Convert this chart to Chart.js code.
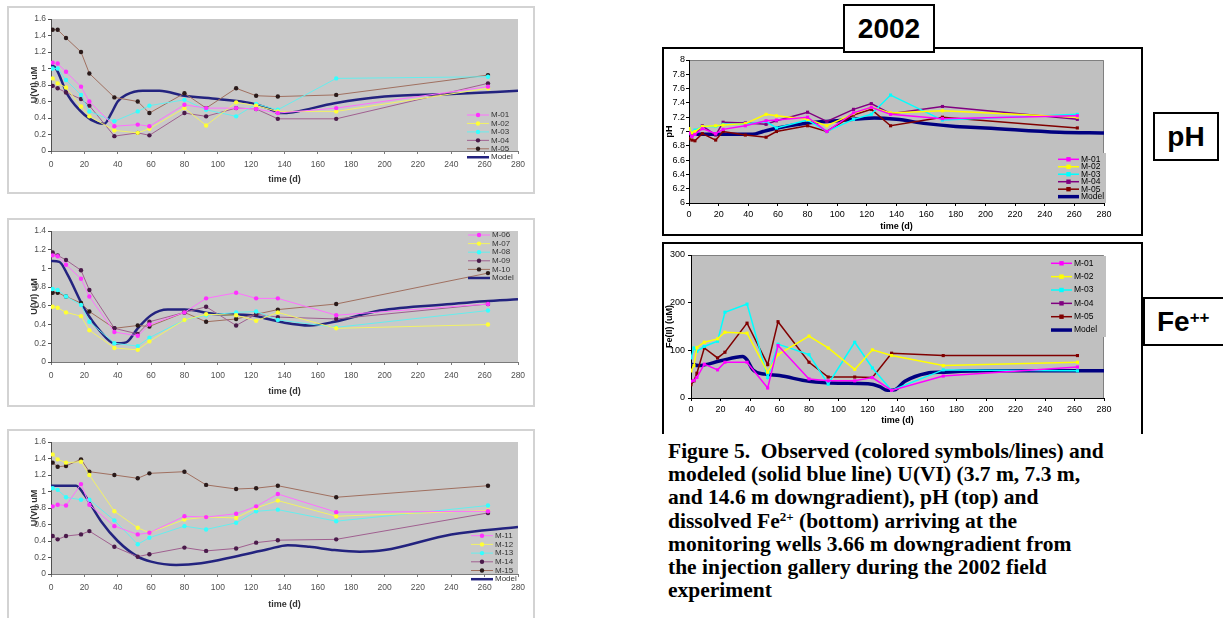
<!DOCTYPE html>
<html lang="en">
<head>
<meta charset="UTF-8" />
<title>Figure 5 - U(VI), pH and Fe(II), 2002</title>
<style>
  body { margin: 0; background: #fff; }
  #page { position: relative; width: 1223px; height: 618px; overflow: hidden; font-family: "Liberation Sans", Arial, sans-serif; }
  .frame { position: absolute; box-sizing: border-box; }
  .scan { border: 2px solid #d3d3d3; }
  .blk { border: 2px solid #000; }
  canvas { position: absolute; }
  .tag { position: absolute; box-sizing: border-box; border: 2px solid #000; background: #fff; font-weight: bold; font-size: 28px; display: flex; align-items: center; justify-content: center; }
  .tag sup { font-size: 17px; position: relative; top: -4px; vertical-align: top; }
  #caption { position: absolute; left: 668px; top: 440px; font-family: "Liberation Serif", "Times New Roman", serif; font-weight: bold; font-size: 21.5px; line-height: 23.2px; white-space: nowrap; color: #000; }
  #caption sup { font-size: 13px; line-height: 0; vertical-align: 7px; }
</style>
</head>
<body>
<div id="page">
  <div class="frame scan" style="left:7px;top:6px;width:528px;height:188px"></div>
  <div class="frame scan" style="left:7px;top:218px;width:528px;height:189px"></div>
  <div class="frame scan" style="left:7px;top:429px;width:528px;height:200px"></div>
  <div class="frame blk" style="left:662px;top:47px;width:481px;height:189px"></div>
  <div class="frame blk" style="left:662px;top:242px;width:481px;height:192px;border-bottom:none"></div>

  <canvas id="c1"></canvas>
  <canvas id="c2"></canvas>
  <canvas id="c3"></canvas>
  <canvas id="cph"></canvas>
  <canvas id="cfe"></canvas>

  <div class="tag" style="left:843px;top:4px;width:92px;height:49px">2002</div>
  <div class="tag" style="left:1153px;top:112px;width:66px;height:49px">pH</div>
  <div class="tag" style="left:1143px;top:297px;width:100px;height:49px;justify-content:flex-start;padding-left:12px">Fe<sup>++</sup></div>

  <div id="caption">
    Figure 5.&nbsp; Observed (colored symbols/lines) and<br>
    modeled (solid blue line) U(VI) (3.7 m, 7.3 m,<br>
    and 14.6 m downgradient), pH (top) and<br>
    dissolved Fe<sup>2+</sup> (bottom) arriving at the<br>
    monitoring wells 3.66 m downgradient from<br>
    the injection gallery during the 2002 field<br>
    experiment
  </div>
</div>

<script src="https://cdn.jsdelivr.net/npm/chart.js"></script>
<script>
// sampling days of the wells
const uDays = [1, 4, 9, 18, 23, 38, 52, 59, 80, 93, 111, 123, 136, 171, 262];
const chemDays = [0, 2, 4, 9, 18, 23, 38, 52, 59, 80, 93, 111, 123, 136, 171, 262];

// U(VI) uM, wells 3.7 m
const m01 = [1.07, 1.06, 0.96, 0.78, 0.60, 0.30, 0.32, 0.30, 0.56, 0.52, 0.52, 0.51, 0.46, 0.52, 0.78];
const m02 = [0.88, 0.82, 0.77, 0.54, 0.42, 0.25, 0.22, 0.27, 0.52, 0.31, 0.59, 0.55, 0.48, 0.48, 0.76];
const m03 = [1.00, 1.00, 0.86, 0.68, 0.48, 0.36, 0.48, 0.55, 0.62, 0.50, 0.42, 0.57, 0.50, 0.88, 0.90];
const m04 = [0.79, 0.76, 0.71, 0.63, 0.55, 0.18, 0.22, 0.19, 0.46, 0.42, 0.52, 0.51, 0.39, 0.39, 0.82];
const m05 = [1.47, 1.47, 1.37, 1.20, 0.94, 0.65, 0.60, 0.46, 0.70, 0.52, 0.76, 0.67, 0.66, 0.68, 0.92];
const model1Days = [0, 3, 10, 20, 28, 32, 36, 40, 45, 55, 65, 80, 100, 120, 130, 137, 145, 170, 200, 240, 280];
const model1 = [1.05, 1.00, 0.68, 0.44, 0.34, 0.33, 0.45, 0.60, 0.68, 0.73, 0.73, 0.67, 0.63, 0.58, 0.52, 0.46, 0.47, 0.58, 0.66, 0.69, 0.73];

// U(VI) uM, wells 7.3 m
const m06 = [1.14, 1.13, 1.04, 0.89, 0.70, 0.32, 0.28, 0.40, 0.53, 0.68, 0.74, 0.68, 0.68, 0.50, 0.62];
const m07 = [0.59, 0.58, 0.53, 0.49, 0.34, 0.15, 0.13, 0.22, 0.45, 0.51, 0.50, 0.44, 0.53, 0.36, 0.40];
const m08 = [0.78, 0.77, 0.70, 0.61, 0.43, 0.20, 0.17, 0.26, 0.45, 0.50, 0.53, 0.54, 0.45, 0.37, 0.55];
const m09 = [1.17, 1.14, 1.09, 0.98, 0.77, 0.36, 0.30, 0.43, 0.53, 0.59, 0.39, 0.51, 0.48, 0.46, 0.62];
const m10 = [0.74, 0.74, 0.70, 0.63, 0.54, 0.36, 0.39, 0.38, 0.53, 0.43, 0.46, 0.51, 0.56, 0.62, 0.95];
const model2Days = [0, 5, 10, 20, 30, 38, 45, 52, 60, 70, 80, 100, 120, 130, 140, 155, 170, 197, 240, 260, 280];
const model2 = [1.08, 1.07, 0.93, 0.57, 0.32, 0.20, 0.21, 0.36, 0.50, 0.56, 0.56, 0.51, 0.50, 0.46, 0.42, 0.39, 0.43, 0.55, 0.62, 0.65, 0.67];

// U(VI) uM, wells 14.6 m
const m11 = [0.82, 0.84, 0.83, 1.09, 0.84, 0.58, 0.48, 0.50, 0.70, 0.69, 0.73, 0.82, 0.97, 0.75, 0.76];
const m12 = [1.45, 1.39, 1.35, 1.36, 1.20, 0.76, 0.56, 0.50, 0.66, 0.69, 0.68, 0.80, 0.89, 0.70, 0.77];
const m13 = [1.04, 1.02, 0.93, 0.90, 0.90, 0.65, 0.36, 0.44, 0.58, 0.54, 0.62, 0.76, 0.78, 0.64, 0.83];
const m14 = [0.46, 0.42, 0.46, 0.48, 0.52, 0.33, 0.21, 0.24, 0.32, 0.28, 0.31, 0.38, 0.41, 0.42, 0.74];
const m15 = [1.35, 1.30, 1.31, 1.39, 1.24, 1.20, 1.16, 1.22, 1.24, 1.08, 1.03, 1.04, 1.07, 0.93, 1.07];
const model3Days = [0, 15, 20, 30, 40, 52, 60, 75, 90, 110, 130, 142, 155, 170, 185, 200, 240, 280];
const model3 = [1.07, 1.07, 0.96, 0.64, 0.40, 0.21, 0.15, 0.11, 0.13, 0.21, 0.30, 0.35, 0.33, 0.29, 0.27, 0.29, 0.48, 0.57];

// pH, wells M-01..M-05
const ph01 = [6.98, 6.93, 6.96, 7.04, 6.97, 7.03, 7.08, 7.15, 7.16, 7.20, 7.00, 7.26, 7.34, 7.24, 7.18, 7.22];
const ph02 = [7.04, 6.98, 7.00, 7.07, 7.08, 7.09, 7.11, 7.24, 7.22, 7.17, 7.08, 7.25, 7.34, 7.26, 7.29, 7.20];
const ph03 = [7.03, 6.99, 7.02, 7.07, 7.07, 7.10, 7.10, 7.14, 7.05, 7.16, 7.00, 7.17, 7.24, 7.51, 7.16, 7.24];
const ph04 = [6.97, 6.95, 6.96, 7.08, 6.95, 7.13, 7.12, 7.10, 7.15, 7.27, 7.14, 7.31, 7.39, 7.25, 7.35, 7.17];
const ph05 = [6.90, 6.88, 6.87, 6.97, 6.88, 7.00, 6.95, 6.92, 7.00, 7.08, 7.00, 7.23, 7.31, 7.08, 7.20, 7.05];
const phModelDays = [0, 20, 43, 50, 60, 80, 100, 125, 140, 160, 180, 190, 200, 250, 280];
const phModel = [6.96, 6.96, 6.96, 7.00, 7.05, 7.12, 7.15, 7.19, 7.17, 7.11, 7.07, 7.06, 7.05, 6.99, 6.98];

// Fe(II) uM, wells M-01..M-05 (no M-04 values plotted)
const fe01 = [35, 37, 43, 71, 59, 75, 75, 21, 110, 40, 36, 36, 43, 16, 46, 65];
const fe02 = [57, 68, 106, 117, 124, 138, 136, 54, 91, 130, 105, 60, 101, 89, 68, 75];
const fe03 = [84, 105, 98, 108, 119, 180, 197, 43, 113, 91, 29, 117, 63, 16, 59, 57];
const fe04 = [];
const fe05 = [28, 36, 52, 105, 84, 96, 157, 70, 160, 75, 44, 44, 43, 94, 89, 89];
const feModelDays = [0, 5, 20, 35, 38, 42, 50, 60, 80, 100, 120, 128, 133, 138, 145, 160, 170, 200, 280];
const feModel = [71, 68, 78, 87, 80, 59, 50, 47, 35, 31, 30, 24, 16, 17, 35, 52, 54, 57, 57];

const xy = (xs, ys) => ys.map((y, i) => ({ x: xs[i], y }));

// scanned (left) panels and Excel (right) panels
const scanColors = [
  { line: '#ff70ff', point: '#ff30ff' },
  { line: '#f2f266', point: '#ffff33' },
  { line: '#66eeee', point: '#33ffff' },
  { line: '#a06090', point: '#4a1a4a' },
  { line: '#a07060', point: '#2a1a1a' }
];
const xlColors = ['#ff00ff', '#ffff00', '#00ffff', '#800080', '#800000'];

function scanSets(labels, series, mDays, mVals) {
  const sets = series.map((s, i) => ({
    label: labels[i], data: xy(uDays, s),
    borderColor: scanColors[i].line, backgroundColor: scanColors[i].point,
    pointBackgroundColor: scanColors[i].point, pointBorderWidth: 0,
    borderWidth: 1, pointRadius: 2.2, pointStyle: 'circle', tension: 0
  }));
  sets.push({ label: 'Model', data: xy(mDays, mVals), borderColor: '#23237f', borderWidth: 2.5,
    pointRadius: 0, cubicInterpolationMode: 'monotone' });
  return sets;
}

function xlSets(series, mDays, mVals) {
  const sets = series.map((s, i) => ({
    label: 'M-0' + (i + 1), data: xy(chemDays, s),
    borderColor: xlColors[i], backgroundColor: xlColors[i], pointBackgroundColor: xlColors[i],
    pointBorderWidth: 0, borderWidth: 1.5, pointRadius: 2.2, pointStyle: 'rect', tension: 0
  }));
  sets.push({ label: 'Model', data: xy(mDays, mVals), borderColor: '#000080', borderWidth: 3.5,
    pointRadius: 0, cubicInterpolationMode: 'monotone' });
  return sets;
}

const plotBg = {
  id: 'plotBg',
  beforeDraw(chart, args, o) {
    const a = chart.chartArea, ctx = chart.ctx;
    ctx.save();
    ctx.fillStyle = o.color;
    ctx.fillRect(a.left, a.top, a.right - a.left, a.bottom - a.top);
    if (o.edge) {
      ctx.strokeStyle = o.edge; ctx.lineWidth = 1;
      ctx.beginPath();
      ctx.moveTo(a.left, a.top + 0.5);
      ctx.lineTo(a.right - 0.5, a.top + 0.5);
      ctx.lineTo(a.right - 0.5, a.bottom);
      ctx.stroke();
    }
    ctx.restore();
  }
};

const boxLegend = {
  id: 'boxLegend',
  afterDatasetsDraw(chart, args, o) {
    const ctx = chart.ctx;
    ctx.save();
    if (o.bg) { ctx.fillStyle = o.bg.color; ctx.fillRect(o.bg.x, o.bg.y, o.bg.w, o.bg.h); }
    ctx.font = o.font;
    ctx.textBaseline = 'middle';
    chart.data.datasets.forEach((ds, i) => {
      const y = o.y + i * o.dy;
      ctx.strokeStyle = ds.borderColor;
      ctx.lineWidth = ds.borderWidth;
      ctx.beginPath(); ctx.moveTo(o.x, y); ctx.lineTo(o.x + o.len, y); ctx.stroke();
      if (ds.pointRadius) {
        const cx = o.x + o.len / 2, r = ds.pointRadius;
        ctx.fillStyle = ds.pointBackgroundColor;
        if (ds.pointStyle === 'rect') ctx.fillRect(cx - r, y - r, 2 * r, 2 * r);
        else { ctx.beginPath(); ctx.arc(cx, y, r, 0, Math.PI * 2); ctx.fill(); }
      }
      ctx.fillStyle = o.color;
      ctx.fillText(ds.label, o.x + o.len + o.gap, y);
    });
    ctx.restore();
  }
};

Chart.defaults.font.family = '"Liberation Sans", Arial, sans-serif';

function buildChart(id, L, datasets, yAxis) {
  const cv = document.getElementById(id);
  const b = L.box;
  cv.width = b.w; cv.height = b.h;
  cv.style.left = b.x + 'px'; cv.style.top = b.y + 'px';
  const yW = L.area.l - b.x;
  const xH = b.y + b.h - L.area.b;
  const tLH = L.titleSize * 1.2, kLH = L.tickSize * 1.2;
  const lg = L.legend;
  const legendOpts = {
    x: lg.x - b.x, y: lg.y - b.y, dy: lg.dy, len: lg.len, gap: lg.gap,
    font: lg.size + 'px "Liberation Sans", Arial, sans-serif', color: L.textColor,
    bg: lg.bg ? { color: L.plot, x: lg.bg.x - b.x, y: lg.bg.y - b.y, w: lg.bg.w, h: lg.bg.h } : null
  };
  const fmt = v => String(+v.toFixed(2));
  return new Chart(cv, {
    type: 'line',
    data: { datasets },
    options: {
      responsive: false,
      animation: false,
      events: [],
      layout: { padding: { left: 0, bottom: 0, top: L.area.t - b.y, right: b.x + b.w - L.area.r } },
      plugins: {
        legend: { display: false },
        tooltip: { enabled: false },
        plotBg: { color: L.plot, edge: L.edge },
        boxLegend: legendOpts
      },
      scales: {
        x: {
          type: 'linear', min: 0, max: 280,
          afterFit: s => { s.height = xH; },
          ticks: { stepSize: 20, autoSkip: false, maxRotation: 0, color: L.tickColor,
            font: { size: L.tickSize }, padding: L.xLabelY - L.area.b - L.tickLen - kLH / 2 },
          grid: { drawOnChartArea: false, tickLength: L.tickLen, color: L.xAxisColor },
          border: { color: L.xAxisColor, width: 1 },
          title: { display: true, text: 'time (d)', color: L.textColor,
            font: { size: L.titleSize, weight: 'bold' },
            padding: { top: 0, bottom: b.y + b.h - L.xTitleY - tLH / 2 } }
        },
        y: {
          min: yAxis.min, max: yAxis.max,
          afterFit: s => { s.width = yW; },
          ticks: { stepSize: yAxis.step, callback: fmt, color: L.tickColor,
            font: { size: L.tickSize }, padding: L.area.l - L.yLabelR - L.tickLen },
          grid: { drawOnChartArea: false, tickLength: L.tickLen, color: L.yAxisColor },
          border: { color: L.yAxisColor, width: 1 },
          title: { display: true, text: yAxis.title, color: L.textColor,
            font: { size: L.titleSize, weight: 'bold' },
            padding: { top: L.yTitleX - b.x - tLH / 2, bottom: 0 } }
        }
      }
    },
    plugins: [plotBg, boxLegend]
  });
}

const scanLook = { plot: '#c9c9c9', edge: null, tickSize: 8.5, titleSize: 9, tickLen: 3,
  tickColor: '#505050', textColor: '#333', xAxisColor: '#7a7a7a', yAxisColor: '#505050',
  yTitleX: 35, yLabelR: 46 };
const xlLook = { plot: '#c0c0c0', edge: '#808080', tickSize: 9, titleSize: 9, tickLen: 3,
  tickColor: '#000', textColor: '#000', xAxisColor: '#000', yAxisColor: '#000', yTitleX: 670 };

buildChart('c1', Object.assign({}, scanLook, {
  box: { x: 7, y: 6, w: 527, h: 188 }, area: { l: 51, t: 19, r: 518, b: 151 },
  xLabelY: 165, xTitleY: 180,
  legend: { x: 467, y: 115, dy: 8.45, len: 22, gap: 2, size: 8 }
}), scanSets(['M-01', 'M-02', 'M-03', 'M-04', 'M-05'], [m01, m02, m03, m04, m05], model1Days, model1),
  { min: 0, max: 1.6, step: 0.2, title: 'U(VI) uM' });

buildChart('c2', Object.assign({}, scanLook, {
  box: { x: 7, y: 218, w: 527, h: 189 }, area: { l: 51, t: 231, r: 518, b: 362 },
  xLabelY: 376, xTitleY: 392,
  legend: { x: 468, y: 235, dy: 8.6, len: 22, gap: 2, size: 8 }
}), scanSets(['M-06', 'M-07', 'M-08', 'M-09', 'M-10'], [m06, m07, m08, m09, m10], model2Days, model2),
  { min: 0, max: 1.4, step: 0.2, title: 'U(VI) uM' });

buildChart('c3', Object.assign({}, scanLook, {
  box: { x: 7, y: 429, w: 527, h: 189 }, area: { l: 51, t: 442, r: 518, b: 574 },
  xLabelY: 588, xTitleY: 605,
  legend: { x: 471, y: 535.7, dy: 8.7, len: 22, gap: 2, size: 8 }
}), scanSets(['M-11', 'M-12', 'M-13', 'M-14', 'M-15'], [m11, m12, m13, m14, m15], model3Days, model3),
  { min: 0, max: 1.6, step: 0.2, title: 'U(VI) uM' });

buildChart('cph', Object.assign({}, xlLook, {
  box: { x: 664, y: 49, w: 476, h: 184 }, area: { l: 689, t: 60, r: 1104, b: 203 },
  yLabelR: 685, xLabelY: 215, xTitleY: 227,
  legend: { x: 1058, y: 159.3, dy: 7.47, len: 21, gap: 2, size: 8.5,
    bg: { x: 1055, y: 153, w: 51, h: 50 } }
}), xlSets([ph01, ph02, ph03, ph04, ph05], phModelDays, phModel),
  { min: 6, max: 8, step: 0.2, title: 'pH' });

buildChart('cfe', Object.assign({}, xlLook, {
  box: { x: 664, y: 244, w: 476, h: 188 }, area: { l: 691, t: 255, r: 1104, b: 398 },
  yLabelR: 685, xLabelY: 410, xTitleY: 421,
  legend: { x: 1051, y: 263.3, dy: 13.35, len: 21, gap: 2, size: 8.5,
    bg: { x: 1047, y: 256, w: 59, h: 81 } }
}), xlSets([fe01, fe02, fe03, fe04, fe05], feModelDays, feModel),
  { min: 0, max: 300, step: 100, title: 'Fe(II) (uM)' });
</script>
</body>
</html>
